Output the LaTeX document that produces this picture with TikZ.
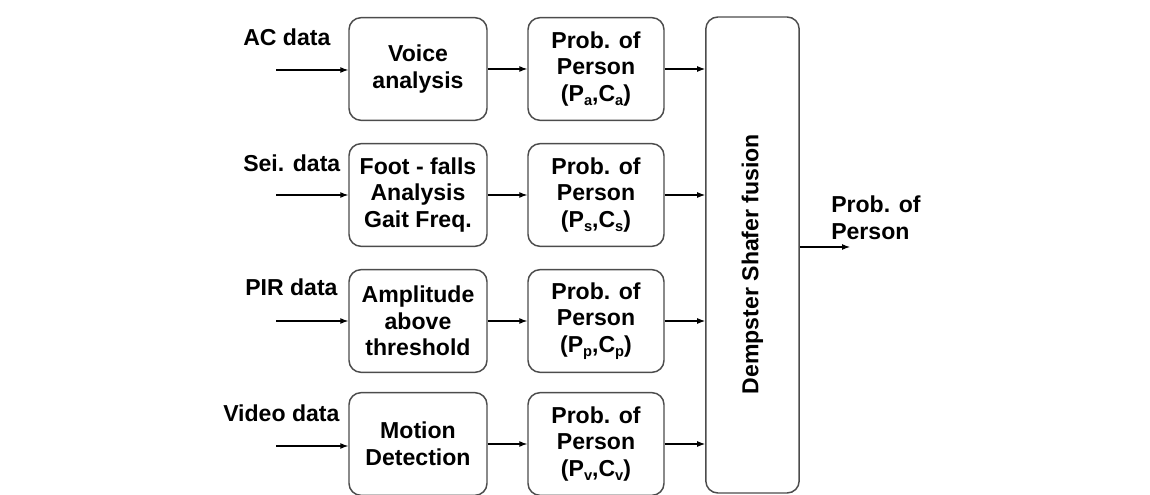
\documentclass[tikz,border=0pt]{standalone}
\usepackage{fontspec}
\setmainfont{Liberation Sans}
\usetikzlibrary{arrows.meta}

% lowered, reduced index letter used in the (P,C) pairs
\newcommand{\idx}[1]{\raisebox{-0.35ex}{\fontsize{11}{11}\selectfont #1}}

\begin{document}
\begin{tikzpicture}[
    x=0.75pt, y=-0.75pt,
    every node/.style={font=\fontsize{17.3}{20}\selectfont\bfseries, inner sep=0pt},
    block/.style={draw=black!70, line width=1.1pt, rounded corners=9pt,
                  align=center, minimum height=77pt},
    procbox/.style={block, minimum width=103.5pt},
    probbox/.style={block, minimum width=102pt},
    fusionbox/.style={draw=black!70, line width=1.1pt, rounded corners=9pt,
                      minimum width=70pt, minimum height=357pt},
    inlabel/.style={anchor=west},
    link/.style={line width=0.8pt, -{Latex[length=6pt,width=4.5pt]}}
  ]
  \useasboundingbox (0,0) rectangle (1150,495);

  % processing stage
  \node[procbox] (voice)  at (418,69)  {Voice\\analysis};
  \node[procbox] (foot)   at (418,195) {Foot - falls\\Analysis\\Gait Freq.};
  \node[procbox] (ampl)   at (418,321) {Amplitude\\above\\threshold};
  \node[procbox] (motion) at (418,444) {Motion\\Detection};

  % per-sensor probability estimates
  \node[probbox] (pa) at (596,69)  {Prob. of\\Person\\(P\idx{a},C\idx{a})};
  \node[probbox] (ps) at (596,195) {Prob. of\\Person\\(P\idx{s},C\idx{s})};
  \node[probbox] (pp) at (596,321) {Prob. of\\Person\\(P\idx{p},C\idx{p})};
  \node[probbox] (pv) at (596,444) {Prob. of\\Person\\(P\idx{v},C\idx{v})};

  % fusion stage
  \node[fusionbox] (ds) at (752.5,255) {};
  \node[rotate=90] (dslabel) at (752.5,264) {Dempster Shafer fusion};

  % sensor inputs
  \node[inlabel] (lac)  at (243,37)  {AC data};
  \node[inlabel] (lsei) at (243,163) {Sei. data};
  \node[inlabel] (lpir) at (245,287) {PIR data};
  \node[inlabel] (lvid) at (223,413) {Video data};

  \coordinate (iac)  at (276,70);
  \coordinate (isei) at (276,195);
  \coordinate (ipir) at (276,321);
  \coordinate (ivid) at (276,446);

  \draw[link] (iac)  -- (iac -| voice.west);
  \draw[link] (isei) -- (isei -| foot.west);
  \draw[link] (ipir) -- (ipir -| ampl.west);
  \draw[link] (ivid) -- (ivid -| motion.west);

  \draw[link] (voice.east)  -- (pa.west);
  \draw[link] (foot.east)   -- (ps.west);
  \draw[link] (ampl.east)   -- (pp.west);
  \draw[link] (motion.east) -- (pv.west);

  \draw[link] (pa.east) -- (pa.east -| ds.west);
  \draw[link] (ps.east) -- (ps.east -| ds.west);
  \draw[link] (pp.east) -- (pp.east -| ds.west);
  \draw[link] (pv.east) -- (pv.east -| ds.west);

  % fused output
  \coordinate (outstart) at (ds.east |- 0,247);
  \coordinate (outend) at (850,247);
  \draw[link] (outstart) -- (outend);
  \node[anchor=west, align=left] (out) at (831,218) {Prob. of\\Person};
\end{tikzpicture}
\end{document}
